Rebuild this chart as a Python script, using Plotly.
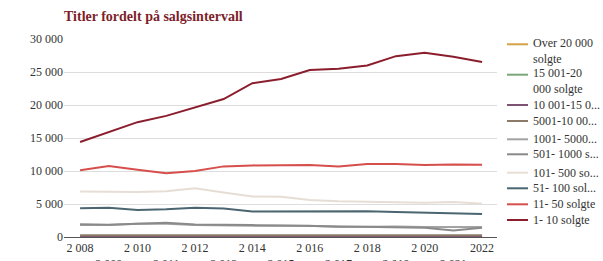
import plotly.graph_objects as go

years = list(range(2008, 2023))
x_ticktext = ["2 008", "<br>2 009", "2 010", "<br>2 011", "2 012", "<br>2 013", "2 014", "<br>2 015",
              "2 016", "<br>2 017", "2 018", "<br>2 019", "2 020", "<br>2 021", "2022"]
y_tickvals = [0, 5000, 10000, 15000, 20000, 25000, 30000]
y_ticktext = ["0", "5 000", "10 000", "15 000", "20 000", "25 000", "30 000"]

names = ["Over 20 000<br>solgte", "15 001-20<br>000 solgte", "10 001-15 0...", "5001-10 00...",
         "1001- 5000...", "501- 1000 s...", "101- 500 so...", "51- 100 sol...", "11- 50 solgte", "1- 10 solgte"]

over_20000 = [10, 10, 10, 10, 10, 10, 10, 10, 10, 10, 10, 10, 10, 10, 10]
s15001_20000 = [20, 20, 20, 20, 20, 20, 20, 20, 20, 20, 20, 20, 20, 20, 20]
s10001_15000 = [50, 50, 50, 50, 50, 50, 50, 50, 50, 50, 50, 50, 50, 50, 50]
s5001_10000 = [250, 250, 260, 270, 260, 260, 260, 260, 260, 260, 260, 260, 260, 260, 260]
s1001_5000 = [1800, 1800, 2000, 2000, 1800, 1700, 1700, 1700, 1700, 1500, 1600, 1600, 1500, 1500, 1500]
s501_1000 = [1950, 1850, 2000, 2150, 1900, 1800, 1800, 1750, 1700, 1600, 1500, 1500, 1400, 1000, 1400]
s101_500 = [6900, 6800, 6800, 6950, 7400, 6750, 6150, 6100, 5600, 5400, 5300, 5300, 5200, 5300, 5050]
s51_100 = [4350, 4450, 4100, 4200, 4450, 4300, 3850, 3850, 3950, 3900, 3900, 3800, 3700, 3550, 3500]
s11_50 = [10100, 10750, 10200, 9650, 10000, 10700, 10850, 10850, 10900, 10700, 11050, 11050, 10900, 11000, 10950]
s1_10 = [14400, 15900, 17400, 18350, 19650, 20900, 23300, 23950, 25300, 25500, 26000, 27400, 27900, 27300, 26500]

series = [over_20000, s15001_20000, s10001_15000, s5001_10000, s1001_5000,
          s501_1000, s101_500, s51_100, s11_50, s1_10]
colors = ["#d4a347", "#7aa67a", "#7d5273", "#8c7b68", "#a3a3a3",
          "#8a8a8a", "#e6ded5", "#4b6571", "#d64f4c", "#8b1e2d"]
# legend row centres (pixels from top of figure)
legend_rows = [51.3, 81.2, 105, 121, 139.3, 154.3, 172.7, 188.3, 204.3, 220]
legend_line_rows = [44.3, 74.7, 105, 121, 139.3, 154.3, 172.7, 188.3, 204.3, 220]

W, H = 603, 261
L, R, T, B = 64, 106, 39, 24
pw, ph = W - L - R, H - T - B


def px_x(px):
    return (px - L) / pw


def px_y(py):
    return (H - B - py) / ph


fig = go.Figure()
for name, vals, col in zip(names, series, colors):
    fig.add_trace(go.Scatter(x=years, y=vals, name=name.replace("<br>", " "), mode="lines",
                             line=dict(color=col, width=2), cliponaxis=False, showlegend=False))

font = "Liberation Serif, DejaVu Serif, serif"
shapes = []
annotations = []
for name, col, ty, ly in zip(names, colors, legend_rows, legend_line_rows):
    shapes.append(dict(type="line", xref="paper", yref="paper",
                       x0=px_x(507), x1=px_x(528), y0=px_y(ly), y1=px_y(ly),
                       line=dict(color=col, width=2)))
    annotations.append(dict(text=name, xref="paper", yref="paper", x=px_x(531), y=px_y(ty),
                            xanchor="left", yanchor="middle", align="left", showarrow=False,
                            font=dict(family=font, size=12, color="#333333")))

fig.update_layout(
    width=W, height=H,
    margin=dict(l=L, r=R, t=T, b=B, autoexpand=False),
    paper_bgcolor="white", plot_bgcolor="white",
    font=dict(family=font, size=12, color="#333333"),
    title=dict(text="<b>Titler fordelt på salgsintervall</b>", x=64/W, xanchor="left",
               y=1 - 16/H, yanchor="middle", xref="container", yref="container",
               font=dict(family=font, size=14, color="#7b1e2a")),
    showlegend=False,
    shapes=shapes,
    annotations=annotations,
    xaxis=dict(range=[2007.44, 2022.52], tickvals=years, ticktext=x_ticktext, tickangle=0,
               showgrid=False, showline=True, linecolor="#555555", linewidth=1,
               ticks="", zeroline=False, tickfont=dict(size=12), automargin=False),
    yaxis=dict(range=[0, 30000], tickvals=y_tickvals, ticktext=y_ticktext,
               showgrid=True, gridcolor="#dddddd", gridwidth=1, zeroline=False,
               showline=False, ticks="", tickfont=dict(size=12), automargin=False),
)
fig.write_html("out.html", config={"displayModeBar": False},
               post_script="document.body.style.margin='0px';document.body.style.overflow='hidden';")
